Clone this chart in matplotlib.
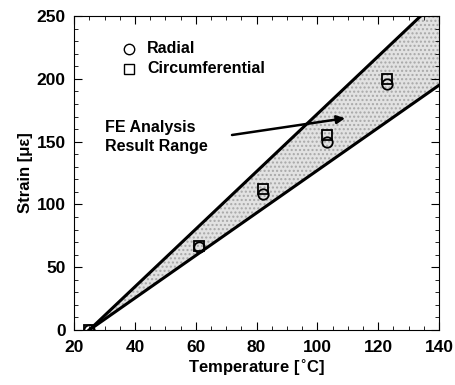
import numpy as np
import matplotlib.pyplot as plt
from matplotlib.ticker import MultipleLocator

plt.rcParams["font.family"] = ["Liberation Sans", "DejaVu Sans"]
plt.rcParams["font.weight"] = "bold"

# FE analysis range (bounding lines), start at room temperature
band_temp = [25, 140]
band_upper = [0, 264]
band_lower = [0, 195]

# measured strains
temp = [25, 61, 82, 103, 123]
radial = [0, 66, 108, 150, 196]
circumferential = [0, 67, 112, 155, 200]

fig = plt.figure(figsize=(4.55, 3.85), dpi=100)
ax = fig.add_axes([0.163, 0.143, 0.802, 0.815])

ax.fill_between(band_temp, band_lower, band_upper, facecolor="#e2e2e2",
                hatch="....", edgecolor="#a8a8a8", linewidth=0)
ax.plot(band_temp, band_upper, color="black", linewidth=2.2)
ax.plot(band_temp, band_lower, color="black", linewidth=2.2)

ax.plot(temp, radial, "o", markerfacecolor="none", markeredgecolor="black",
        markersize=7.5, markeredgewidth=1.3, linestyle="none")
ax.plot(temp, circumferential, "s", markerfacecolor="none", markeredgecolor="black",
        markersize=7.5, markeredgewidth=1.3, linestyle="none")

# legend drawn by hand like the original
ax.plot([38], [224], "o", markerfacecolor="none", markeredgecolor="black", markersize=7.5)
ax.plot([38], [208], "s", markerfacecolor="none", markeredgecolor="black", markersize=7.5)
ax.text(44, 224, "Radial", fontsize=11.5, fontweight="bold", va="center")
ax.text(44, 208, "Circumferential", fontsize=11.5, fontweight="bold", va="center")

ax.text(30, 167, "FE Analysis\nResult Range", fontsize=11.5, fontweight="bold",
        va="top", linespacing=1.3)
ax.annotate("", xy=(110, 169), xytext=(71, 155),
            arrowprops=dict(arrowstyle="-|>", color="black", lw=1.8, mutation_scale=12))

ax.set_xlim(20, 140)
ax.set_ylim(0, 250)
ax.xaxis.set_major_locator(MultipleLocator(20))
ax.xaxis.set_minor_locator(MultipleLocator(5))
ax.yaxis.set_major_locator(MultipleLocator(50))
ax.yaxis.set_minor_locator(MultipleLocator(10))
ax.tick_params(which="both", direction="in", top=True, right=True, labelsize=12.5)
ax.tick_params(axis="x", pad=7)
ax.tick_params(axis="y", pad=6)
ax.tick_params(which="major", length=6)
ax.tick_params(which="minor", length=3)
for lbl in ax.get_xticklabels() + ax.get_yticklabels():
    lbl.set_fontweight("bold")

ax.set_xlabel("Temperature [$^{\\circ}$C]", fontsize=12, fontweight="bold", labelpad=2)
ax.set_ylabel("Strain [\u03bc\u03b5]", fontsize=12, fontweight="bold", labelpad=3)

fig.savefig("out.png", dpi=100)
